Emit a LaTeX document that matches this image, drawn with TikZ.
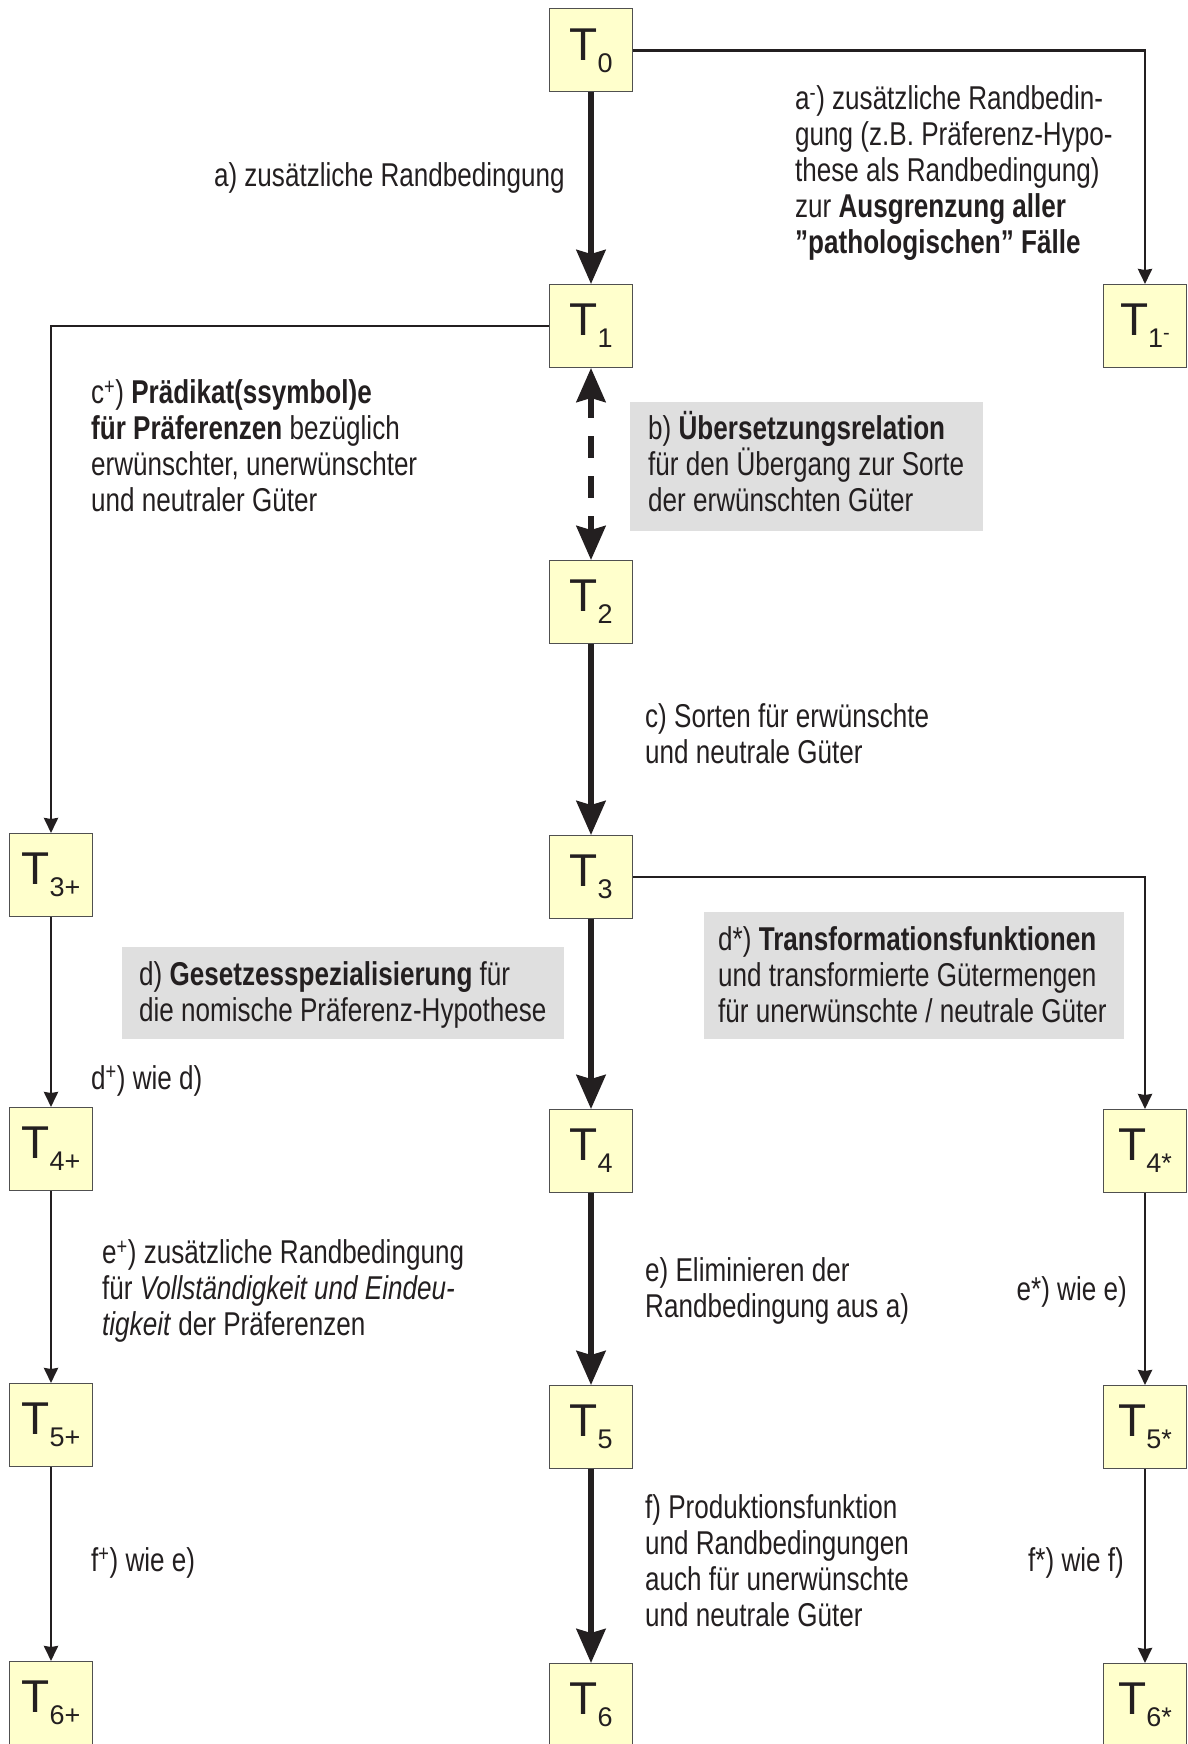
\documentclass[tikz,border=0pt]{standalone}
\usepackage{fontspec}
\setmainfont[FakeStretch=0.79]{Liberation Sans}
\newfontfamily\boxfamily{Liberation Sans}
\usetikzlibrary{arrows.meta}
\definecolor{ink}{HTML}{231F20}
\definecolor{boxfill}{HTML}{FFFFCC}
\definecolor{boxline}{HTML}{505050}
\definecolor{notefill}{HTML}{DFDFDF}
\newcommand{\lblfont}{\fontsize{33}{36}\selectfont}
\newcommand{\Tfont}{\boxfamily\fontsize{46}{46}\selectfont}
\newcommand{\Sfont}{\boxfamily\fontsize{27}{27}\selectfont}
\newcommand{\Tlab}[1]{T\raisebox{-12pt}{\Sfont #1}}
\newcommand{\fs}{\rule{0pt}{30pt}}
\tikzset{
  x=1pt, y=-1pt,
  tbox/.style={draw=boxline, line width=1pt, fill=boxfill, minimum width=83pt, minimum height=83pt, inner sep=0pt, font=\Tfont, text=ink},
  lbl/.style={font=\lblfont, text=ink, align=left, inner sep=0pt},
  bigarrow/.style={draw=ink, line width=5.7pt, -{Stealth[length=34pt,width=29pt,inset=4pt]}},
  bigdash/.style={draw=ink, line width=5.7pt, dash pattern=on 22pt off 18pt, {Stealth[length=34pt,width=29pt,inset=4pt]}-{Stealth[length=34pt,width=29pt,inset=4pt]}},
  thinarrow/.style={draw=ink, line width=2.8pt, -{Stealth[length=15pt,width=14pt,inset=1pt]}},
}
\begin{document}
\begin{tikzpicture}
\useasboundingbox (0,0) rectangle (1187,1744);
% grey note backgrounds
\fill[notefill] (630,402) rectangle (983,531);
\fill[notefill] (704,912) rectangle (1124,1039);
\fill[notefill] (122,947) rectangle (564,1039);
% boxes
\node[tbox] (T0) at (591,50.5) {\Tlab{0}};
\node[tbox] (T1) at (591,326) {\Tlab{1}};
\node[tbox] (T1m) at (1145,326) {\Tlab{1\raisebox{8pt}{\fontsize{20}{20}\selectfont -}}};
\node[tbox] (T2) at (591,602) {\Tlab{2}};
\node[tbox] (T3) at (591,877) {\Tlab{3}};
\node[tbox] (T3p) at (51,875) {\Tlab{3+}};
\node[tbox] (T4) at (591,1151) {\Tlab{4}};
\node[tbox] (T4p) at (51,1149) {\Tlab{4+}};
\node[tbox] (T4s) at (1145,1151) {\Tlab{4*}};
\node[tbox] (T5) at (591,1427) {\Tlab{5}};
\node[tbox] (T5p) at (51,1425) {\Tlab{5+}};
\node[tbox] (T5s) at (1145,1427) {\Tlab{5*}};
\node[tbox] (T6) at (591,1705) {\Tlab{6}};
\node[tbox] (T6p) at (51,1703) {\Tlab{6+}};
\node[tbox] (T6s) at (1145,1705) {\Tlab{6*}};
% connectors
\draw[bigarrow] (T0) -- (T1);
\draw[bigdash] (T1) -- (T2);
\draw[bigarrow] (T2) -- (T3);
\draw[bigarrow] (T3) -- (T4);
\draw[bigarrow] (T4) -- (T5);
\draw[bigarrow] (T5) -- (T6);
\draw[thinarrow] (T0.east) -| (T1m.north);
\draw[thinarrow] (T1.west) -| (T3p.north);
\draw[thinarrow] (T3.east) -| (T4s.north);
\draw[thinarrow] (T3p) -- (T4p);
\draw[thinarrow] (T4p) -- (T5p);
\draw[thinarrow] (T5p) -- (T6p);
\draw[thinarrow] (T4s) -- (T5s);
\draw[thinarrow] (T5s) -- (T6s);
% labels
\node[lbl, anchor=base east] (la) at (565,187) {a) zusätzliche Randbedingung};
\node[lbl, anchor=north west] (lam) at (795,79) {\fs a\textsuperscript{-}) zusätzliche Randbedin-\\gung (z.B. Präferenz-Hypo-\\these als Randbedingung)\\zur \textbf{Ausgrenzung aller}\\\textbf{"pathologischen" Fälle}};
\node[lbl, anchor=north west] (lcp) at (91,373) {\fs c\textsuperscript{+}) \textbf{Prädikat(ssymbol)e}\\\textbf{für Präferenzen} bezüglich\\erwünschter, unerwünschter\\und neutraler Güter};
\node[lbl, anchor=north west] (lb) at (648,409) {\fs b) \textbf{Übersetzungsrelation}\\für den Übergang zur Sorte\\der erwünschten Güter};
\node[lbl, anchor=north west] (lc) at (645,697) {\fs c) Sorten für erwünschte\\und neutrale Güter};
\node[lbl, anchor=north west] (lds) at (718,920) {\fs d*) \textbf{Transformationsfunktionen}\\und transformierte Gütermengen\\für unerwünschte / neutrale Güter};
\node[lbl, anchor=north west] (ld) at (139,955) {\fs d) \textbf{Gesetzesspezialisierung} für\\die nomische Präferenz-Hypothese};
\node[lbl, anchor=base west] (ldp) at (91,1089) {d\textsuperscript{+}) wie d)};
\node[lbl, anchor=north west] (lep) at (102,1233) {\fs e\textsuperscript{+}) zusätzliche Randbedingung\\für \textit{Vollständigkeit und Eindeu-}\\\textit{tigkeit} der Präferenzen};
\node[lbl, anchor=north west] (le) at (645,1251) {\fs e) Eliminieren der\\Randbedingung aus a)};
\node[lbl, anchor=base east] (les) at (1127,1300) {e*) wie e)};
\node[lbl, anchor=base west] (lfp) at (91,1571) {f\textsuperscript{+}) wie e)};
\node[lbl, anchor=north west] (lf) at (645,1488) {\fs f) Produktionsfunktion\\und Randbedingungen\\auch für unerwünschte\\und neutrale Güter};
\node[lbl, anchor=base east] (lfs) at (1124,1571) {f*) wie f)};
\end{tikzpicture}
\end{document}
